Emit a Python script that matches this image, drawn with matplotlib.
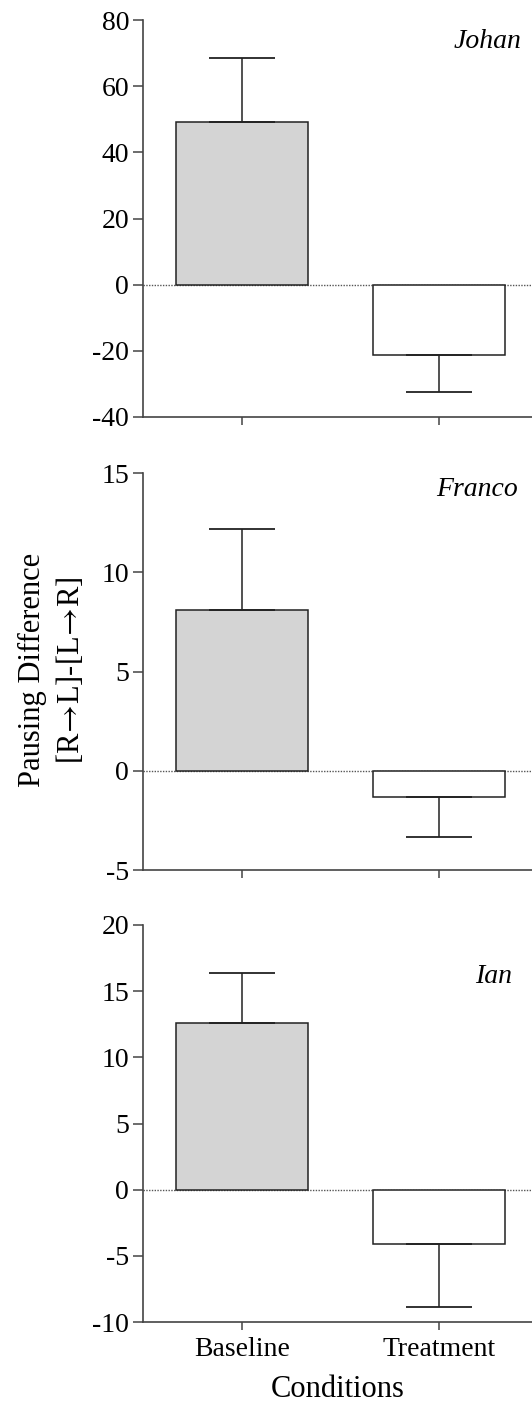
# %%

######################
## Import libraries ##
######################

import matplotlib
matplotlib.use('Agg')
import matplotlib.pyplot as plt
import numpy as np

plt.rcParams['font.family'] = ['Liberation Serif', 'DejaVu Serif']
plt.rcParams['axes.unicode_minus'] = False
plt.rcParams['mathtext.fontset'] = 'stix'

# %%

##########
## Data ##
##########

conditions = ['Baseline', 'Treatment']
subjects = ['Johan', 'Franco', 'Ian']
means = [[49.3, -21.4], [8.1, -1.3], [12.6, -4.1]]
errors = [[19.3, 11.0], [4.1, 2.05], [3.75, 4.75]]
y_limits = [(-40, 80), (-5, 15), (-10, 20)]
y_ticks = [[-40, -20, 0, 20, 40, 60, 80], [-5, 0, 5, 10, 15], [-10, -5, 0, 5, 10, 15, 20]]

# %%

##########
## Plot ##
##########

fig = plt.figure(figsize=(5.32, 14.03), dpi=100)
left, width, height = 143 / 532, 389 / 532, 397 / 1403
bottoms = [986 / 1403, 533 / 1403, 81 / 1403]
name_pos = [(0.974, 0.929), (0.964, 0.942), (0.949, 0.853)]

x = np.arange(len(conditions))
for i, subj in enumerate(subjects):
    ax = fig.add_axes([left, bottoms[i], width, height])
    m = np.array(means[i])
    e = np.array(errors[i])
    # one-sided error bars, pointing away from zero
    yerr = np.vstack([np.where(m < 0, e, 0), np.where(m > 0, e, 0)])
    ax.bar(x, m, width=0.667, color=['#d4d4d4', 'white'], edgecolor='#222222',
           linewidth=1.1, zorder=2)
    ax.errorbar(x, m, yerr=yerr, fmt='none', ecolor='#222222', elinewidth=1.1,
                capsize=23.8, capthick=1.3, zorder=3)
    ax.axhline(0, color='#555555', lw=1.0, ls=(0, (1, 1)), zorder=1)
    ax.set_xlim(-0.5, 1.47)
    ax.set_ylim(*y_limits[i])
    ax.set_yticks(y_ticks[i])
    ax.set_xticks(x)
    if i == 2:
        ax.set_xticklabels(conditions, fontsize=20)
        ax.set_xlabel('Conditions', fontsize=22, labelpad=9)
    else:
        ax.set_xticklabels([])
    ax.tick_params(axis='y', labelsize=20, length=7, width=1.1, color='#444444', pad=3)
    ax.tick_params(axis='x', length=6, width=1.1, color='#444444', pad=5)
    for s in ['top', 'right']:
        ax.spines[s].set_visible(False)
    for s in ['left', 'bottom']:
        ax.spines[s].set_color('#444444')
        ax.spines[s].set_linewidth(1.2)
    ax.text(name_pos[i][0], name_pos[i][1], subj, transform=ax.transAxes,
            ha='right', va='baseline', fontsize=20, style='italic')

fig.text(52 / 532, 0.5225, 'Pausing Difference\n[R$\\!\\rightarrow\\!$L]-[L$\\!\\rightarrow\\!$R]',
         rotation=90, ha='center', va='center', fontsize=22, linespacing=1.3)

fig.savefig('out.png', dpi=100)
